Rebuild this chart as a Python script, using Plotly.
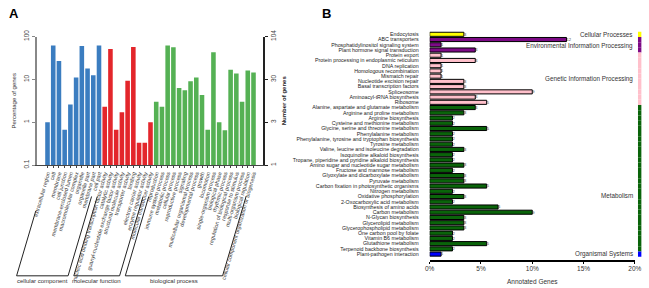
import plotly.graph_objects as go

# ---------------- Panel A data (GO level-2 classification) ----------------
cc_terms = ["extracellular region", "cell", "membrane", "cell junction",
            "membrane-enclosed lumen", "macromolecular complex", "organelle",
            "organelle part", "membrane part", "cell part"]
cc_pct = [1.0, 62, 27, 0.67, 2.6, 11, 60, 18, 12.4, 62]

mf_terms = ["nucleic acid binding transcription factor activity", "catalytic activity",
            "guanyl-nucleotide exchange factor activity", "structural molecule activity",
            "transporter activity", "binding", "electron carrier activity",
            "enzyme regulator activity", "molecular transducer activity"]
mf_pct = [2.3, 51, 0.67, 1.7, 9.3, 57, 0.33, 0.33, 1.0]

bp_terms = ["reproduction", "immune system process", "metabolic process", "cellular process",
            "reproductive process", "signaling", "multicellular organismal process",
            "developmental process", "growth", "locomotion", "single-organism process",
            "biological phase", "rhythmic process", "regulation of biological process",
            "response to stimulus", "multi-organism process", "biological regulation",
            "cellular component organization or biogenesis"]
bp_pct = [3.0, 2.3, 62, 56, 6.3, 5.6, 9.0, 11, 4.3, 0.67, 43, 1.0, 0.65, 16.8, 13.7, 3.0, 16, 14.4]

go_groups = ["cellular component", "molecular function", "biological process"]
go_colors = ["#3b7dc0", "#e3262b", "#55b154"]

left_ticks = [0.1, 1, 10, 100]
left_ticktext = ["0.1", "1", "10", "100"]
right_ticktext = ["1", "3", "30", "104"]

# ---------------- Panel B data (KEGG classification) ----------------
kegg_pathways = [
    "Endocytosis",
    "ABC transporters", "Phosphatidylinositol signaling system", "Plant hormone signal transduction",
    "Protein export", "Protein processing in endoplasmic reticulum", "DNA replication",
    "Homologous recombination", "Mismatch repair", "Nucleotide excision repair",
    "Basal transcription factors", "Spliceosome", "Aminoacyl-tRNA biosynthesis", "Ribosome",
    "Alanine, aspartate and glutamate metabolism", "Arginine and proline metabolism",
    "Arginine biosynthesis", "Cysteine and methionine metabolism",
    "Glycine, serine and threonine metabolism", "Phenylalanine metabolism",
    "Phenylalanine, tyrosine and tryptophan biosynthesis", "Tyrosine metabolism",
    "Valine, leucine and isoleucine degradation", "Isoquinoline alkaloid biosynthesis",
    "Tropane, piperidine and pyridine alkaloid biosynthesis",
    "Amino sugar and nucleotide sugar metabolism", "Fructose and mannose metabolism",
    "Glyoxylate and dicarboxylate metabolism", "Pyruvate metabolism",
    "Carbon fixation in photosynthetic organisms", "Nitrogen metabolism",
    "Oxidative phosphorylation", "2-Oxocarboxylic acid metabolism",
    "Biosynthesis of amino acids", "Carbon metabolism", "N-Glycan biosynthesis",
    "Glycerolipid metabolism", "Glycerophospholipid metabolism", "One carbon pool by folate",
    "Vitamin B6 metabolism", "Glutathione metabolism", "Terpenoid backbone biosynthesis",
    "Plant-pathogen interaction",
]
kegg_counts = [3,
               12, 1, 4,
               1, 4, 1, 1, 1, 3, 3, 9, 4, 5,
               4, 3, 2, 2, 5, 2, 2, 2, 3, 2, 2, 3, 2, 3, 3, 5, 2, 3, 2, 6, 9, 3, 3, 3, 2, 2, 5, 2,
               1]
kegg_total = 90
kegg_classes = ["Cellular Processes", "Environmental Information Processing",
                "Genetic Information Processing", "Metabolism", "Organismal Systems"]
kegg_class_sizes = [1, 3, 10, 28, 1]
kegg_class_colors = ["#ffff00", "#7d0a86", "#ffc0cb", "#0a640a", "#0000ff"]
pct_ticks = [0, 5, 10, 15, 20]

# ---------------- geometry helpers ----------------
W, H = 649, 288
def px(x):
    return x / W
def py(y):
    return 1 - y / H

FONT = "Arial, Liberation Sans, sans-serif"

go_terms = cc_terms + mf_terms + bp_terms
go_pct = cc_pct + mf_pct + bp_pct
go_bar_colors = ([go_colors[0]] * len(cc_terms) + [go_colors[1]] * len(mf_terms)
                 + [go_colors[2]] * len(bp_terms))

kegg_row_class = []
for c, n in zip(kegg_classes, kegg_class_sizes):
    kegg_row_class += [c] * n
cmap = dict(zip(kegg_classes, kegg_class_colors))
kegg_bar_colors = [cmap[c] for c in kegg_row_class]
kegg_pct = [100.0 * c / kegg_total for c in kegg_counts]

fig = go.Figure()

# Panel A bars
fig.add_trace(go.Bar(x=go_terms, y=go_pct, marker=dict(color=go_bar_colors, line=dict(width=0)),
                     width=0.8, xaxis="x", yaxis="y", showlegend=False))
# invisible trace so the right-hand axis is drawn
fig.add_trace(go.Scatter(x=[go_terms[0]], y=[1], mode="markers", marker=dict(opacity=0),
                         xaxis="x", yaxis="y2", showlegend=False, hoverinfo="skip"))
# Panel B bars
fig.add_trace(go.Bar(y=kegg_pathways, x=kegg_pct, orientation="h",
                     marker=dict(color=kegg_bar_colors, line=dict(color="black", width=1)),
                     width=0.78, text=[str(c) for c in kegg_counts], textposition="outside",
                     textfont=dict(size=6, color="#444", family=FONT), cliponaxis=False,
                     xaxis="x3", yaxis="y3", showlegend=False))
# class strip on the right edge
fig.add_trace(go.Bar(y=kegg_pathways, x=[1] * len(kegg_pathways), orientation="h",
                     marker=dict(color=kegg_bar_colors, line=dict(width=0)), width=1,
                     xaxis="x4", yaxis="y3", showlegend=False))

ax_l, ax_r = 32.3, 263.3
first_c, step = 43.3, 5.83
r0 = (ax_l - first_c) / step
r1 = (ax_r - first_c) / step
def bar_px(i):
    return ax_l + (i - r0) / (r1 - r0) * (ax_r - ax_l)

fig.update_layout(
    width=W, height=H, margin=dict(l=0, r=0, t=0, b=0),
    paper_bgcolor="white", plot_bgcolor="white", barmode="overlay",
    font=dict(family=FONT, color="#333"),
    xaxis=dict(domain=[px(ax_l), px(ax_r)], anchor="y", type="category",
               categoryorder="array", categoryarray=go_terms, range=[r0, r1],
               tickmode="linear", tick0=0, dtick=1,
               tickangle=-74, tickfont=dict(size=5.5, color="#333"),
               showline=True, linecolor="#444", linewidth=1, ticks="outside", ticklen=2,
               tickcolor="#444", showgrid=False, zeroline=False),
    yaxis=dict(domain=[py(164.3), py(30.7)], anchor="x", type="log", range=[-1, 2],
               tickvals=left_ticks, ticktext=left_ticktext, tickangle=-90,
               tickfont=dict(size=6.5, color="#444"), showline=True, linecolor="#888",
               linewidth=1.5, ticks="outside", ticklen=3, tickcolor="#888", showgrid=False,
               zeroline=False,
               title=dict(text="Percentage of genes", font=dict(size=6, color="#333"), standoff=6)),
    yaxis2=dict(overlaying="y", side="right", anchor="x", type="log", range=[-1, 2],
                tickvals=left_ticks, ticktext=right_ticktext, tickangle=-90,
                tickfont=dict(size=6.5, color="#444"), showline=True, linecolor="#222",
                linewidth=1.5, ticks="outside", ticklen=3, tickcolor="#222", showgrid=False,
                zeroline=False,
                title=dict(text="<b>Number of genes</b>", font=dict(size=6, color="#222"), standoff=6)),
    xaxis3=dict(domain=[px(432.7), px(641.7)], anchor="y3", range=[0, 20],
                tickvals=pct_ticks, ticktext=[f"{t}%" for t in pct_ticks],
                tickfont=dict(size=6.5, color="#333"), showline=True, linecolor="black",
                linewidth=2, ticks="outside", ticklen=2, tickcolor="black", showgrid=False,
                zeroline=False,
                title=dict(text="Annotated Genes", font=dict(size=6.5, color="#333"), standoff=8)),
    yaxis3=dict(domain=[py(262.6), py(23.2)], anchor="x3", type="category",
                categoryorder="array", categoryarray=kegg_pathways, autorange="reversed",
                tickmode="linear", tick0=0, dtick=1,
                tickfont=dict(size=5.3, color="#222"), ticks="outside", ticklen=9,
                tickcolor="rgba(0,0,0,0)", showline=False, showgrid=False, zeroline=False),
    xaxis4=dict(domain=[px(644.8), px(648.6)], anchor="y3", range=[0, 1], visible=False),
)

shapes = []
annotations = []
annotations.append(dict(text="<b>A</b>", x=px(2), y=py(7), xref="paper", yref="paper",
                        xanchor="left", yanchor="middle", showarrow=False,
                        font=dict(size=13, color="black", family=FONT)))
annotations.append(dict(text="<b>B</b>", x=px(321), y=py(7), xref="paper", yref="paper",
                        xanchor="left", yanchor="middle", showarrow=False,
                        font=dict(size=13, color="black", family=FONT)))

# GO group brackets under the rotated labels
sizes = [len(cc_terms), len(mf_terms), len(bp_terms)]
start = 0
y_bot = 279.5
slope = 0.29
for gi, (g, n) in enumerate(zip(go_groups, sizes)):
    i0, i1 = start, start + n - 1
    xb0 = bar_px(i0) - 31.5
    xb1 = bar_px(i1) - 31.5
    top0 = 212 if gi == 0 else 197
    top1 = 197
    line = dict(type="line", xref="paper", yref="paper", line=dict(color="#222", width=1))
    shapes.append(dict(line, x0=px(xb0), y0=py(y_bot), x1=px(xb0 + (y_bot - top0) * slope), y1=py(top0)))
    shapes.append(dict(line, x0=px(xb1), y0=py(y_bot), x1=px(xb1 + (y_bot - top1) * slope), y1=py(top1)))
    shapes.append(dict(line, x0=px(xb0), y0=py(y_bot), x1=px(xb1), y1=py(y_bot)))
    annotations.append(dict(text=g, x=px((xb0 + xb1) / 2), y=py(285), xref="paper", yref="paper",
                            xanchor="center", yanchor="middle", showarrow=False,
                            font=dict(size=6, color="#333", family=FONT)))
    start += n

# KEGG class labels
class_label_rows = [0.1, 2.3, 8.6, 30.8, 41.9]
for c, r in zip(kegg_classes, class_label_rows):
    annotations.append(dict(text=c, x=px(641.5), y=r, xref="paper", yref="y3",
                            xanchor="right", yanchor="middle", showarrow=False,
                            font=dict(size=6.3, color="#333", family=FONT)))

fig.update_layout(shapes=shapes, annotations=annotations)
fig.write_html("out.html", config={"displayModeBar": False},
               post_script="document.body.style.margin='0px';document.body.style.overflow='hidden';")
